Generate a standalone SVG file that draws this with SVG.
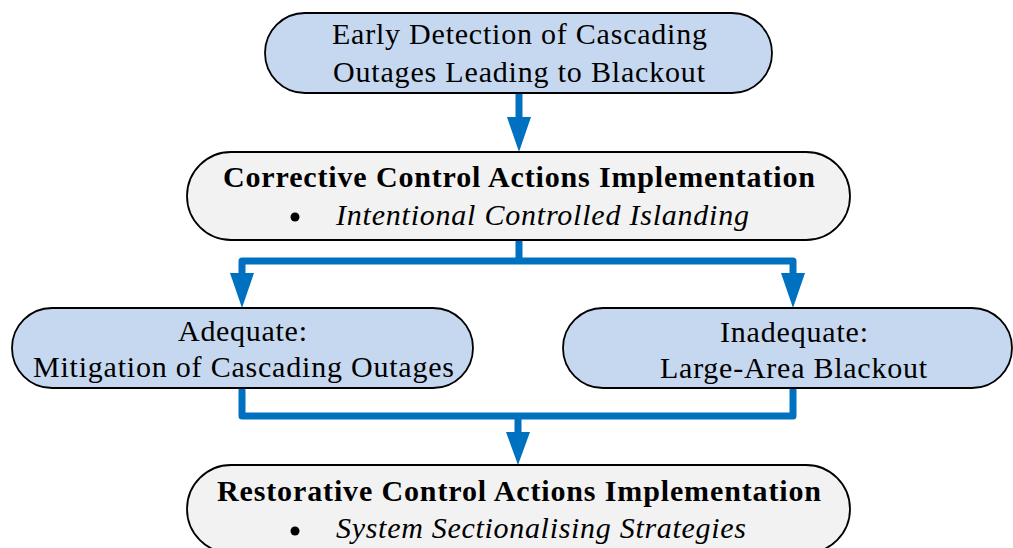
<svg xmlns="http://www.w3.org/2000/svg" width="1013" height="548" viewBox="0 0 1013 548">
<style>
.blue{fill:#C6D8EF;stroke:#000;stroke-width:1.8}
.gray{fill:#F2F2F2;stroke:#000;stroke-width:1.8}
.t{font-family:"Liberation Serif","Times New Roman",serif;font-size:30px;fill:#000}
.b{font-weight:bold;font-size:30px}
.i{font-style:italic}
.c{fill:none;stroke:#0070C0;stroke-width:7;stroke-linecap:round;stroke-linejoin:round}
.h{fill:#0070C0}
</style>
<rect width="1013" height="548" fill="#fff"/>
<g id="connectors">
<path class="c" d="M519,94 V120"/>
<polygon class="h" points="507,117 531,117 519,152"/>
<path class="c" d="M519,242 V261 H242 V276 M519,261 H793 V276"/>
<polygon class="h" points="230,273 254,273 242,308"/>
<polygon class="h" points="781,273 805,273 793,308"/>
<path class="c" d="M242,390 V416 H793 V390 M518,416 V435"/>
<polygon class="h" points="506,432 530,432 518,465"/>
</g>
<g id="n1">
<rect class="blue" x="265" y="13" width="507" height="80" rx="40"/>
<text class="t" x="332" y="44" textLength="375" lengthAdjust="spacing">Early Detection of Cascading</text>
<text class="t" x="333" y="82" textLength="372" lengthAdjust="spacing">Outages Leading to Blackout</text>
</g>
<g id="n2">
<rect class="gray" x="187" y="152" width="663" height="88" rx="44"/>
<text class="t b" x="223" y="187" textLength="592" lengthAdjust="spacing">Corrective Control Actions Implementation</text>
<circle cx="295" cy="217" r="4.5" fill="#000"/>
<text class="t i" x="336" y="225" textLength="413" lengthAdjust="spacing">Intentional Controlled Islanding</text>
</g>
<g id="n3">
<rect class="blue" x="12" y="308" width="461" height="80" rx="40"/>
<text class="t" x="178" y="341" textLength="129" lengthAdjust="spacing">Adequate:</text>
<text class="t" x="33" y="377" textLength="421" lengthAdjust="spacing">Mitigation of Cascading Outages</text>
</g>
<g id="n4">
<rect class="blue" x="563" y="308" width="449" height="80" rx="40"/>
<text class="t" x="720" y="342" textLength="148" lengthAdjust="spacing">Inadequate:</text>
<text class="t" x="660" y="378" textLength="267" lengthAdjust="spacing">Large-Area Blackout</text>
</g>
<g id="n5">
<rect class="gray" x="187" y="465" width="663" height="88" rx="44"/>
<text class="t b" x="217" y="501" textLength="604" lengthAdjust="spacing">Restorative Control Actions Implementation</text>
<circle cx="295" cy="531" r="4.5" fill="#000"/>
<text class="t i" x="336" y="538" textLength="410" lengthAdjust="spacing">System Sectionalising Strategies</text>
</g>
</svg>
